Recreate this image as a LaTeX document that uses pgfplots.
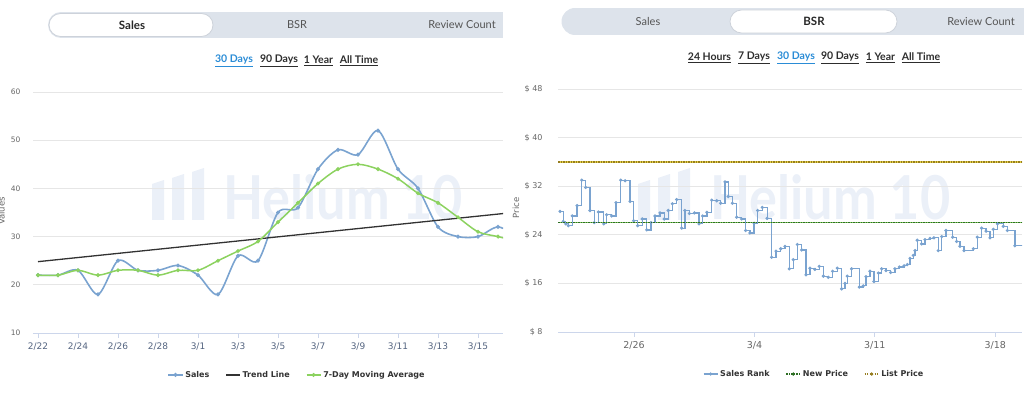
\documentclass[border=0pt]{standalone}
\usepackage{fontspec}
\setmainfont{DejaVu Sans}
\newfontfamily\latofont{Lato}
\usepackage{pgfplots}
\pgfplotsset{compat=1.18}
\newcommand{\fs}[1]{\fontsize{#1}{#1}\selectfont}
\definecolor{tabbg}{RGB}{221,227,235}
\definecolor{pillborder}{RGB}{205,210,218}
\definecolor{tabdark}{RGB}{40,40,40}
\definecolor{tabgray}{RGB}{85,85,85}
\definecolor{linkblue}{RGB}{42,140,214}
\definecolor{linkdark}{RGB}{45,45,45}
\definecolor{wm}{RGB}{235,240,248}
\definecolor{gridgray}{RGB}{230,230,230}
\definecolor{axisgray}{RGB}{204,214,235}
\definecolor{labgray}{RGB}{102,102,102}
\definecolor{labslate}{RGB}{84,100,128}
\definecolor{salesblue}{RGB}{122,163,208}
\definecolor{markgray}{RGB}{75,85,100}
\definecolor{magreen}{RGB}{140,210,95}
\definecolor{trendgray}{RGB}{50,50,50}
\definecolor{newgreen}{RGB}{130,200,90}
\definecolor{newdark}{RGB}{45,110,35}
\definecolor{listyel}{RGB}{225,205,70}
\definecolor{listdark}{RGB}{150,125,30}
\definecolor{legtext}{RGB}{51,51,51}

\begin{document}
\begin{tikzpicture}[x=1pt,y=1pt]
\useasboundingbox (0,0) rectangle (1024,395);
% ---------- tab bars ----------
\fill[tabbg] (61,357) rectangle (503,383);
\fill[tabbg] (61,370) circle[radius=13];
\filldraw[fill=white, draw=pillborder, line width=0.8pt, rounded corners=11.5pt] (49,358.5) rectangle (213,381.5);
\node[font=\latofont\bfseries\fs{11.5}, text=tabdark] at (132,370) {Sales};
\node[font=\latofont\fs{11}, text=tabgray] at (297,370) {BSR};
\node[font=\latofont\fs{11}, text=tabgray] at (462,370) {Review Count};

\fill[tabbg] (575,360) rectangle (1024,387);
\fill[tabbg] (575,373.5) circle[radius=13.5];
\filldraw[fill=white, draw=pillborder, line width=0.8pt, rounded corners=11.5pt] (730,362) rectangle (897,385);
\node[font=\latofont\fs{11}, text=tabgray] at (648,373.5) {Sales};
\node[font=\latofont\bfseries\fs{11.5}, text=tabdark] at (814,373.5) {BSR};
\node[font=\latofont\fs{11}, text=tabgray] at (981,373.5) {Review Count};

% ---------- range links ----------
\begin{scope}[every node/.style={font=\latofont\bfseries\fs{10.5}, inner sep=0pt}]
\node[text=linkblue] at (234,334) {\underline{30 Days}};
\node[text=linkdark] at (279,334) {\underline{90 Days}};
\node[text=linkdark] at (318.5,334) {\underline{1 Year}};
\node[text=linkdark] at (359,334) {\underline{All Time}};
\node[text=linkdark] at (709.5,337) {\underline{24 Hours}};
\node[text=linkdark] at (754,337) {\underline{7 Days}};
\node[text=linkblue] at (796,337) {\underline{30 Days}};
\node[text=linkdark] at (840,337) {\underline{90 Days}};
\node[text=linkdark] at (880.5,337) {\underline{1 Year}};
\node[text=linkdark] at (921,337) {\underline{All Time}};
\end{scope}

% ---------- watermarks ----------
\foreach \ox/\tx in {152/223, 638/710} {
  \fill[wm] (\ox,175) -- (\ox,211) -- (\ox+12,215) -- (\ox+12,175) -- cycle;
  \fill[wm] (\ox+20,175) -- (\ox+20,217) -- (\ox+32,221) -- (\ox+32,175) -- cycle;
  \fill[wm] (\ox+40,175) -- (\ox+40,223) -- (\ox+52,227) -- (\ox+52,175) -- cycle;
  \node[anchor=south west, inner sep=0pt, text=wm] at (\tx,175) {\resizebox{240pt}{45pt}{\latofont\bfseries Helium 10}};
}

% ---------- axis titles ----------
\node[rotate=90, font=\fs{8.5}, text=labgray] at (1.5,184) {Values};
\node[rotate=90, font=\fs{8.5}, text=labgray] at (516,187) {Price};

% ---------- left chart ----------
\begin{axis}[
  at={(33pt,62pt)}, anchor=south west, scale only axis,
  width=470pt, height=241pt,
  xmin=-0.25, xmax=23.25, ymin=10, ymax=60,
  axis x line*=bottom, axis y line*=left,
  y axis line style={draw=none},
  x axis line style={draw=axisgray, line width=0.8pt},
  xtick={0,2,...,22},
  xticklabels={2/22,2/24,2/26,2/28,3/1,3/3,3/5,3/7,3/9,3/11,3/13,3/15},
  ytick={10,20,30,40,50,60},
  yticklabels={10,20,30,40,50,60},
  ymajorgrids, major grid style={draw=gridgray, line width=0.7pt},
  tick align=outside, major tick length=5pt,
  xtick style={draw=axisgray, line width=0.7pt},
  ytick style={draw=none},
  xticklabel style={font=\fs{9}, text=labslate, yshift=-1pt},
  yticklabel style={font=\fs{7.5}, text=labgray, xshift=-4pt},
  clip marker paths=true,
  legend style={at={(0.562,-0.174)}, anchor=center, draw=none, fill=none,
    font=\bfseries\fs{8}, text=legtext, legend columns=3,
    /tikz/every even column/.append style={column sep=14pt}},
  legend image code/.code={\draw[mark repeat=2,mark phase=2,#1] plot coordinates {(0pt,0pt) (7pt,0pt) (14pt,0pt)};},
]
\addplot[salesblue, line width=1.6pt, smooth, tension=0.5, mark=*, mark size=1.1pt, mark options={fill=markgray, draw=none}]
coordinates {(0,22) (1,22) (2,23) (3,18) (4,25) (5,23) (6,23) (7,24) (8,22) (9,18) (10,26) (11,25) (12,35) (13,36) (14,44) (15,48) (16,47) (17,52) (18,44) (19,40) (20,32) (21,30) (22,30) (23,32) (24,30)};
\addlegendentry{Sales}
\addplot[trendgray, line width=1.3pt] coordinates {(0,24.8) (24,35.1)};
\addlegendentry{Trend Line}
\addplot[magreen, line width=1.5pt, smooth, tension=0.5, mark=*, mark size=1.1pt, mark options={fill=markgray, draw=none}]
coordinates {(0,22) (1,22) (2,23) (3,22) (4,23) (5,23) (6,22) (7,23) (8,23) (9,25) (10,27) (11,29) (12,33) (13,37) (14,41) (15,44) (16,45) (17,44) (18,42) (19,39) (20,37) (21,34) (22,31) (23,30) (24,29)};
\addlegendentry{7-Day Moving Average}
\end{axis}

% ---------- right chart ----------
\begin{axis}[
  at={(558pt,63pt)}, anchor=south west, scale only axis,
  width=464pt, height=243pt,
  xmin=-4.42, xmax=22.56, ymin=8, ymax=48,
  axis x line*=bottom, axis y line*=left,
  y axis line style={draw=none},
  x axis line style={draw=axisgray, line width=0.8pt},
  xtick={0,7,14,21},
  xticklabels={2/26,3/4,3/11,3/18},
  ytick={8,16,24,32,40,48},
  yticklabels={\$ 8,\$ 16,\$ 24,\$ 32,\$ 40,\$ 48},
  ymajorgrids, major grid style={draw=gridgray, line width=0.7pt},
  tick align=outside, major tick length=5pt,
  xtick style={draw=axisgray, line width=0.7pt},
  ytick style={draw=none},
  xticklabel style={font=\fs{9.5}, text=labgray, yshift=-1pt},
  yticklabel style={font=\fs{8}, text=labgray, xshift=-7pt},
  clip marker paths=true,
  legend style={at={(0.552,-0.173)}, anchor=center, draw=none, fill=none,
    font=\bfseries\fs{8}, text=legtext, legend columns=3,
    /tikz/every even column/.append style={column sep=14pt}},
  legend image code/.code={\draw[mark repeat=2,mark phase=2,#1] plot coordinates {(0pt,0pt) (7pt,0pt) (14pt,0pt)};},
]
\addplot[newgreen, line width=1.3pt, forget plot] coordinates {(-6,26) (24,26)};
\addplot[listyel, line width=1.3pt, forget plot] coordinates {(-6,36) (24,36)};
\addplot[salesblue, line width=1.2pt, const plot, mark=*, mark size=0.95pt, mark options={fill=markgray, draw=none}]
coordinates {
(-4.30,27.85) (-4.11,26.2) (-3.97,25.8) (-3.82,25.5) (-3.59,27.1) (-3.31,28.8) (-3.04,33.0) (-2.81,31.8)
(-2.56,28.0) (-2.31,26.0) (-2.07,27.75) (-1.76,25.8) (-1.59,27.3) (-1.30,27.1) (-1.05,29.3) (-0.77,33.0)
(-0.52,32.9) (-0.23,29.5) (-0.02,26.3) (0.21,25.5) (0.48,26.6) (0.74,24.8) (0.99,26.0) (1.22,27.1)
(1.51,27.6) (1.76,26.6) (1.99,28.0) (2.23,29.1) (2.48,29.8) (2.77,25.1) (2.96,28.0) (3.22,27.5)
(3.51,27.6) (3.78,25.8) (3.99,27.1) (4.24,27.7) (4.52,29.7) (4.81,29.6) (5.04,29.2) (5.29,32.7)
(5.48,30.3) (5.72,29.2) (5.97,26.9) (6.26,26.6) (6.49,24.7) (6.74,24.3) (6.98,25.9) (7.19,28.0)
(7.46,28.5) (7.74,26.7) (8.00,20.3) (8.26,21.3) (8.53,21.7) (8.78,22.1) (9.03,18.4) (9.26,19.9)
(9.50,22.4) (9.75,21.5) (10.00,17.4) (10.23,18.5) (10.52,18.3) (10.77,18.8) (11.01,17.2) (11.30,17.0)
(11.55,18.0) (11.82,18.5) (12.07,15.1) (12.27,16.0) (12.40,17.2) (12.65,18.4) (13.10,15.4) (13.33,15.6)
(13.49,17.1) (13.72,18.0) (13.95,16.3) (14.21,17.7) (14.40,18.4) (14.65,18.1) (14.92,17.8) (15.17,18.4)
(15.43,18.7) (15.70,18.9) (15.89,19.1) (16.05,20.1) (16.24,20.6) (16.34,21.4) (16.47,23.1) (16.72,22.5)
(16.92,23.2) (17.21,23.4) (17.44,23.5) (17.69,21.4) (17.89,23.7) (18.14,24.7) (18.53,23.6) (18.76,22.9)
(18.95,22.1) (19.19,21.4) (19.73,21.7) (19.96,23.6) (20.21,25.1) (20.47,24.6) (20.70,23.5) (20.89,24.9)
(21.13,25.8) (21.47,25.4) (21.71,24.7) (22.15,22.2) (22.67,22.2)};
\addlegendentry{Sales Rank}
\addplot[newdark, line width=1.3pt, dash pattern=on 1.2pt off 1.3pt, mark=*, mark size=0.9pt, mark options={solid, fill=newdark, draw=none}]
coordinates {(-6,26) (24,26)};
\addlegendentry{New Price}
\addplot[listdark, line width=1.3pt, dash pattern=on 1.2pt off 1.3pt, mark=*, mark size=0.9pt, mark options={solid, fill=listdark, draw=none}]
coordinates {(-6,36) (24,36)};
\addlegendentry{List Price}
\end{axis}
\end{tikzpicture}
\end{document}
